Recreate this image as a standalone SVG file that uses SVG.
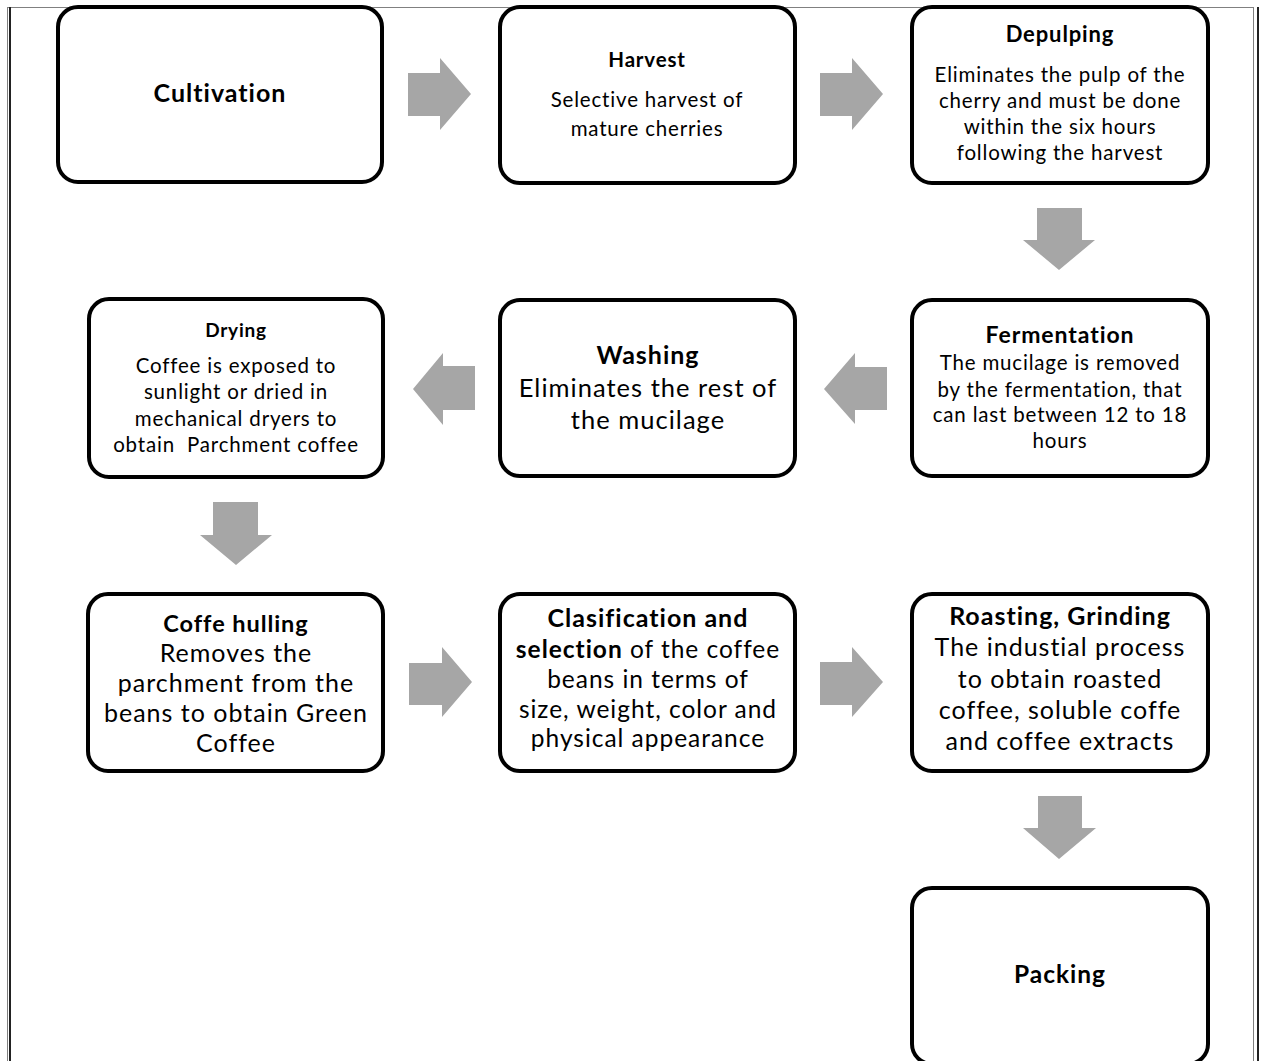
<svg xmlns="http://www.w3.org/2000/svg" width="1266" height="1061" viewBox="0 0 1266 1061">
<style>
.box{fill:#fff;stroke:#000;stroke-width:4}
.arr{fill:#a6a6a6}
text{font-family:Lato,"Liberation Sans",sans-serif;fill:#000;text-anchor:middle;letter-spacing:0.04em}
.b{font-weight:bold}
.frame-thin{stroke:#808080;stroke-width:1;fill:none}
.frame-thick{stroke:#222;stroke-width:2;fill:none}
</style>
<rect width="1266" height="1061" fill="#fff"/>
<g id="frame">
<line class="frame-thin" x1="7" y1="7.5" x2="1254" y2="7.5"/>
<line class="frame-thin" x1="7.5" y1="7" x2="7.5" y2="1061"/>
<line class="frame-thick" x1="10" y1="7" x2="10" y2="1061"/>
<line class="frame-thin" x1="1253.5" y1="7" x2="1253.5" y2="1061"/>
<line class="frame-thick" x1="1258" y1="7" x2="1258" y2="1061"/>
</g>
<g id="connectors">
<polygon class="arr" points="408,73 440,73 440,58 471,94 440,130 440,116 408,116"/>
<polygon class="arr" points="820,73 852,73 852,58 883,94 852,130 852,116 820,116"/>
<polygon class="arr" points="1037,208 1082,208 1082,240 1095,240 1059,270 1023,240 1037,240"/>
<polygon class="arr" points="887,367 855,367 855,353 824,389 855,424 855,410 887,410"/>
<polygon class="arr" points="475,366 443,366 443,353 413,389 443,425 443,410 475,410"/>
<polygon class="arr" points="213,502 258,502 258,535 272,535 236,565 200,535 213,535"/>
<polygon class="arr" points="409,663 442,663 442,647 472,682 442,717 442,705 409,705"/>
<polygon class="arr" points="820,662 852,662 852,647 883,682 852,717 852,705 820,705"/>
<polygon class="arr" points="1038,796 1082,796 1082,828 1096,828 1059,859 1023,828 1038,828"/>
</g>
<g id="cultivation">
<rect class="box" x="58" y="7" width="324" height="175" rx="20"/>
<text class="b" x="220" y="102" font-size="25">Cultivation</text>
</g>
<g id="harvest">
<rect class="box" x="500" y="7" width="295" height="176" rx="20"/>
<text class="b" x="647" y="67" font-size="20.5">Harvest</text>
<text x="647" y="107" font-size="20.5">Selective harvest of</text>
<text x="647" y="136" font-size="20.5">mature cherries</text>
</g>
<g id="depulping">
<rect class="box" x="912" y="7" width="296" height="176" rx="20"/>
<text class="b" x="1060" y="42" font-size="22">Depulping</text>
<text x="1060" y="82" font-size="20.5">Eliminates the pulp of the</text>
<text x="1060" y="108" font-size="20.5">cherry and must be done</text>
<text x="1060" y="134" font-size="20.5">within the six hours</text>
<text x="1060" y="160" font-size="20.5">following the harvest</text>
</g>
<g id="drying">
<rect class="box" x="89" y="299" width="294" height="178" rx="20"/>
<text class="b" x="236" y="337" font-size="19">Drying</text>
<text x="236" y="373" font-size="20.5">Coffee is exposed to</text>
<text x="236" y="399" font-size="20.5">sunlight or dried in</text>
<text x="236" y="426" font-size="20.5">mechanical dryers to</text>
<text x="236" y="452" font-size="20.5" xml:space="preserve">obtain  Parchment coffee</text>
</g>
<g id="washing">
<rect class="box" x="500" y="300" width="295" height="176" rx="20"/>
<text class="b" x="648" y="364" font-size="25">Washing</text>
<text x="648" y="397" font-size="25.5">Eliminates the rest of</text>
<text x="648" y="429" font-size="25.5">the mucilage</text>
</g>
<g id="fermentation">
<rect class="box" x="912" y="300" width="296" height="176" rx="20"/>
<text class="b" x="1060" y="343" font-size="23">Fermentation</text>
<text x="1060" y="370" font-size="20.5">The mucilage is removed</text>
<text x="1060" y="397" font-size="20.5">by the fermentation, that</text>
<text x="1060" y="422" font-size="20.5">can last between 12 to 18</text>
<text x="1060" y="448" font-size="20.5">hours</text>
</g>
<g id="hulling">
<rect class="box" x="88" y="594" width="295" height="177" rx="20"/>
<text class="b" x="236" y="632" font-size="23.5">Coffe hulling</text>
<text x="236" y="662" font-size="25">Removes the</text>
<text x="236" y="692" font-size="25">parchment from the</text>
<text x="236" y="722" font-size="25">beans to obtain Green</text>
<text x="236" y="752" font-size="25">Coffee</text>
</g>
<g id="clasification">
<rect class="box" x="500" y="594" width="295" height="177" rx="20"/>
<text class="b" x="648" y="627" font-size="25">Clasification and</text>
<text x="648" y="658" font-size="24.5"><tspan class="b">selection</tspan> of the coffee</text>
<text x="648" y="688" font-size="24.5">beans in terms of</text>
<text x="648" y="718" font-size="24.5">size, weight, color and</text>
<text x="648" y="747" font-size="24.5">physical appearance</text>
</g>
<g id="roasting">
<rect class="box" x="912" y="594" width="296" height="177" rx="20"/>
<text class="b" x="1060" y="625" font-size="25">Roasting, Grinding</text>
<text x="1060" y="656" font-size="25">The industial process</text>
<text x="1060" y="688" font-size="25">to obtain roasted</text>
<text x="1060" y="719" font-size="25">coffee, soluble coffe</text>
<text x="1060" y="750" font-size="25">and coffee extracts</text>
</g>
<g id="packing">
<rect class="box" x="912" y="888" width="296" height="176" rx="20"/>
<text class="b" x="1060" y="983" font-size="24.5">Packing</text>
</g>
</svg>
